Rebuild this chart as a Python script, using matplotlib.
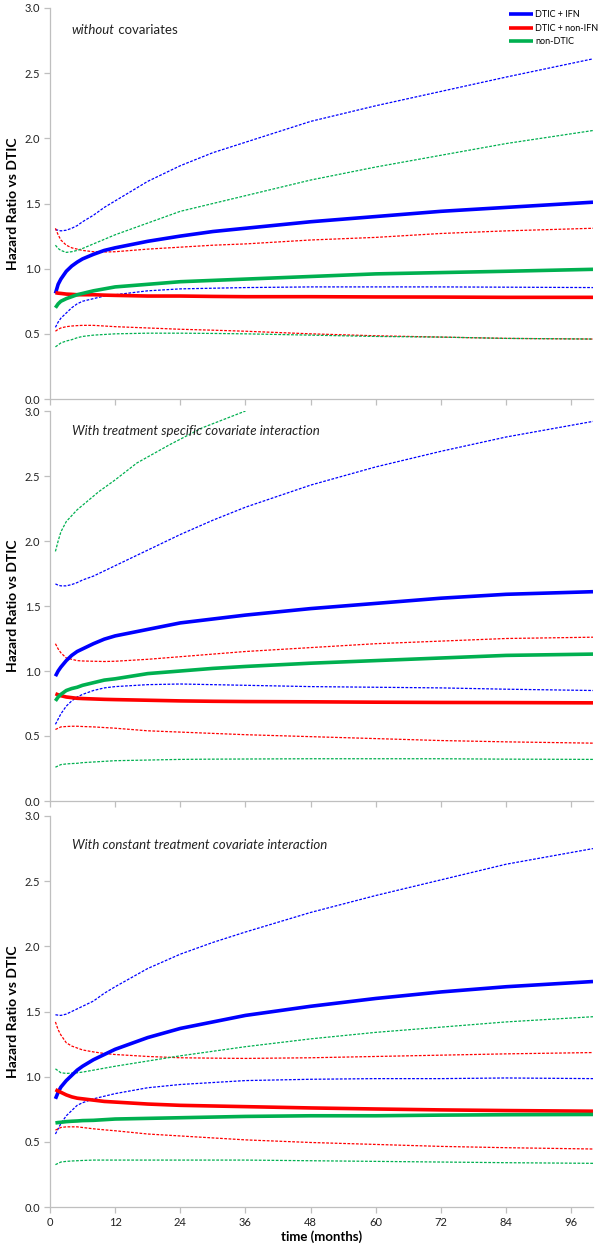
import matplotlib
matplotlib.use('Agg')
import matplotlib.pyplot as plt
import numpy as np

plt.rcParams.update({
    'font.family': ['Lato', 'DejaVu Sans'],
    'font.size': 8,
    'axes.spines.top': False,
    'axes.spines.right': False,
    'axes.edgecolor': '#bfbfbf',
    'axes.linewidth': 0.9,
    'xtick.color': '#bfbfbf',
    'ytick.color': '#bfbfbf',
    'xtick.labelcolor': '#222222',
    'ytick.labelcolor': '#222222',
    'xtick.labelsize': 8,
    'ytick.labelsize': 8,
})

# Data (months, hazard ratio vs DTIC)
months = [1, 1.5, 2, 3, 4, 5, 6, 8, 10, 12, 18, 24, 30, 36, 48, 60, 72, 84, 100]

# Panel 1: without covariates
p1_ifn = [0.81, 0.88, 0.92, 0.98, 1.02, 1.05, 1.075, 1.11, 1.14, 1.16, 1.21, 1.25, 1.285, 1.31, 1.36, 1.40, 1.44, 1.47, 1.51]
p1_ifn_hi = [1.30, 1.295, 1.29, 1.295, 1.31, 1.33, 1.36, 1.41, 1.47, 1.52, 1.67, 1.79, 1.89, 1.97, 2.13, 2.25, 2.36, 2.47, 2.61]
p1_ifn_lo = [0.55, 0.59, 0.62, 0.66, 0.70, 0.73, 0.75, 0.77, 0.79, 0.80, 0.83, 0.845, 0.85, 0.855, 0.86, 0.86, 0.86, 0.858, 0.855]
p1_nonifn = [0.815, 0.812, 0.81, 0.805, 0.803, 0.80, 0.80, 0.80, 0.797, 0.795, 0.79, 0.79, 0.787, 0.785, 0.785, 0.783, 0.782, 0.78, 0.78]
p1_nonifn_hi = [1.31, 1.26, 1.22, 1.18, 1.16, 1.15, 1.14, 1.13, 1.128, 1.13, 1.15, 1.165, 1.18, 1.19, 1.22, 1.24, 1.27, 1.29, 1.31]
p1_nonifn_lo = [0.52, 0.535, 0.545, 0.555, 0.56, 0.563, 0.565, 0.565, 0.56, 0.555, 0.545, 0.535, 0.528, 0.52, 0.50, 0.485, 0.475, 0.465, 0.46]
p1_nondtic = [0.70, 0.73, 0.75, 0.77, 0.785, 0.80, 0.81, 0.83, 0.845, 0.86, 0.88, 0.90, 0.91, 0.92, 0.94, 0.96, 0.97, 0.98, 0.995]
p1_nondtic_hi = [1.18, 1.155, 1.14, 1.125, 1.13, 1.14, 1.155, 1.19, 1.225, 1.26, 1.35, 1.44, 1.50, 1.56, 1.68, 1.78, 1.87, 1.96, 2.06]
p1_nondtic_lo = [0.40, 0.415, 0.43, 0.445, 0.455, 0.47, 0.48, 0.49, 0.495, 0.50, 0.505, 0.505, 0.503, 0.50, 0.49, 0.48, 0.475, 0.465, 0.46]

# Panel 2: treatment specific covariate interaction
p2_ifn = [0.96, 1.00, 1.03, 1.08, 1.12, 1.15, 1.17, 1.21, 1.245, 1.27, 1.32, 1.37, 1.40, 1.43, 1.48, 1.52, 1.56, 1.59, 1.61]
p2_ifn_hi = [1.67, 1.66, 1.655, 1.655, 1.665, 1.68, 1.70, 1.73, 1.77, 1.81, 1.93, 2.05, 2.16, 2.26, 2.43, 2.57, 2.69, 2.80, 2.92]
p2_ifn_lo = [0.59, 0.63, 0.67, 0.73, 0.77, 0.80, 0.82, 0.85, 0.87, 0.88, 0.895, 0.90, 0.895, 0.89, 0.88, 0.875, 0.87, 0.86, 0.85]
p2_nonifn = [0.825, 0.817, 0.81, 0.80, 0.795, 0.79, 0.788, 0.785, 0.782, 0.78, 0.775, 0.77, 0.767, 0.765, 0.763, 0.76, 0.758, 0.757, 0.755]
p2_nonifn_hi = [1.21, 1.17, 1.14, 1.10, 1.09, 1.08, 1.077, 1.075, 1.073, 1.075, 1.09, 1.11, 1.13, 1.15, 1.18, 1.21, 1.23, 1.25, 1.26]
p2_nonifn_lo = [0.55, 0.56, 0.57, 0.573, 0.575, 0.575, 0.573, 0.57, 0.565, 0.56, 0.54, 0.53, 0.52, 0.51, 0.495, 0.48, 0.465, 0.455, 0.445]
p2_nondtic = [0.77, 0.80, 0.82, 0.85, 0.865, 0.875, 0.89, 0.91, 0.93, 0.94, 0.98, 1.0, 1.02, 1.035, 1.06, 1.08, 1.10, 1.12, 1.13]
p2_nondtic_hi_months = [1, 1.5, 2, 3, 5, 9, 12, 16, 22, 28, 36]
p2_nondtic_hi = [1.92, 2.0, 2.07, 2.15, 2.24, 2.38, 2.47, 2.60, 2.74, 2.87, 3.0]
p2_nondtic_lo = [0.26, 0.27, 0.28, 0.285, 0.288, 0.29, 0.295, 0.30, 0.305, 0.31, 0.315, 0.32, 0.322, 0.323, 0.325, 0.325, 0.325, 0.322, 0.32]

# Panel 3: constant treatment covariate interaction
p3_ifn = [0.83, 0.88, 0.92, 0.97, 1.01, 1.05, 1.08, 1.13, 1.17, 1.21, 1.30, 1.37, 1.42, 1.47, 1.54, 1.60, 1.65, 1.69, 1.73]
p3_ifn_hi = [1.475, 1.472, 1.47, 1.48, 1.50, 1.52, 1.54, 1.58, 1.64, 1.69, 1.83, 1.94, 2.03, 2.11, 2.26, 2.39, 2.51, 2.63, 2.75]
p3_ifn_lo = [0.56, 0.60, 0.64, 0.70, 0.74, 0.78, 0.80, 0.83, 0.85, 0.87, 0.915, 0.94, 0.955, 0.97, 0.98, 0.985, 0.985, 0.99, 0.985]
p3_nonifn = [0.90, 0.89, 0.88, 0.86, 0.845, 0.835, 0.83, 0.82, 0.81, 0.805, 0.79, 0.78, 0.775, 0.77, 0.76, 0.752, 0.745, 0.74, 0.735]
p3_nonifn_hi = [1.42, 1.36, 1.32, 1.26, 1.235, 1.22, 1.205, 1.19, 1.178, 1.17, 1.155, 1.145, 1.142, 1.14, 1.145, 1.155, 1.165, 1.175, 1.185]
p3_nonifn_lo = [0.59, 0.60, 0.61, 0.615, 0.615, 0.615, 0.61, 0.60, 0.592, 0.585, 0.56, 0.545, 0.53, 0.515, 0.495, 0.48, 0.465, 0.455, 0.445]
p3_nondtic = [0.645, 0.648, 0.65, 0.655, 0.658, 0.66, 0.663, 0.665, 0.67, 0.675, 0.68, 0.685, 0.69, 0.695, 0.70, 0.70, 0.705, 0.708, 0.71]
p3_nondtic_hi = [1.06, 1.045, 1.03, 1.025, 1.027, 1.03, 1.035, 1.05, 1.065, 1.08, 1.12, 1.16, 1.195, 1.23, 1.29, 1.34, 1.38, 1.42, 1.46]
p3_nondtic_lo = [0.325, 0.335, 0.345, 0.35, 0.353, 0.355, 0.357, 0.36, 0.36, 0.36, 0.36, 0.36, 0.36, 0.36, 0.355, 0.35, 0.345, 0.34, 0.335]

blue = '#0000ff'
red = '#ff0000'
green = '#00b050'

panels = [
    dict(title=[('without', 'italic'), (' covariates', 'normal')], ty=2.83,
         ifn=(p1_ifn, p1_ifn_hi, p1_ifn_lo),
         nonifn=(p1_nonifn, p1_nonifn_hi, p1_nonifn_lo),
         nondtic=(p1_nondtic, (months, p1_nondtic_hi), p1_nondtic_lo)),
    dict(title=[('With treatment specific covariate interaction', 'italic')], ty=2.85,
         ifn=(p2_ifn, p2_ifn_hi, p2_ifn_lo),
         nonifn=(p2_nonifn, p2_nonifn_hi, p2_nonifn_lo),
         nondtic=(p2_nondtic, (p2_nondtic_hi_months, p2_nondtic_hi), p2_nondtic_lo)),
    dict(title=[('With constant treatment covariate interaction', 'italic')], ty=2.78,
         ifn=(p3_ifn, p3_ifn_hi, p3_ifn_lo),
         nonifn=(p3_nonifn, p3_nonifn_hi, p3_nonifn_lo),
         nondtic=(p3_nondtic, (months, p3_nondtic_hi), p3_nondtic_lo)),
]

fig = plt.figure(figsize=(6, 12.48), dpi=100)
H = 1248.0
tops = [8, 411, 816]
bots = [399, 801, 1207]
left, right = 50 / 600, 593 / 600

dash = dict(linestyle=(0, (2.2, 1.2)), linewidth=0.9)

for i, p in enumerate(panels):
    ax = fig.add_axes([left, 1 - bots[i] / H, right - left, (bots[i] - tops[i]) / H])

    # confidence limits
    ax.plot(months, p['ifn'][1], color=blue, **dash)
    ax.plot(months, p['ifn'][2], color=blue, **dash)
    ax.plot(months, p['nonifn'][1], color=red, **dash)
    ax.plot(months, p['nonifn'][2], color=red, **dash)
    ax.plot(p['nondtic'][1][0], p['nondtic'][1][1], color=green, **dash)
    ax.plot(months, p['nondtic'][2], color=green, **dash)

    # point estimates
    ax.plot(months, p['ifn'][0], color=blue, lw=2.6, label='DTIC + IFN', solid_capstyle='butt')
    ax.plot(months, p['nonifn'][0], color=red, lw=2.6, label='DTIC + non-IFN', solid_capstyle='butt')
    ax.plot(months, p['nondtic'][0], color=green, lw=2.6, label='non-DTIC', solid_capstyle='butt')

    ax.set_xlim(0, 100)
    ax.set_ylim(0, 3.0)
    ax.set_xticks(np.arange(0, 97, 12))
    ax.set_yticks(np.arange(0, 3.01, 0.5))
    ax.yaxis.set_major_formatter(matplotlib.ticker.FormatStrFormatter('%.1f'))
    ax.tick_params(length=4, width=0.9, pad=3)
    if i < 2:
        ax.set_xticklabels([])
    else:
        ax.set_xlabel('time (months)', fontsize=9.5, fontweight='bold', labelpad=2)
    ax.set_ylabel('Hazard Ratio vs DTIC', fontsize=10, fontweight='bold')
    ax.yaxis.set_label_coords(-0.057, 0.5)

    # panel title (mixed italic/normal)
    x0 = 4.0
    txt = None
    for s, style in p['title']:
        if txt is None:
            txt = ax.text(x0, p['ty'], s, fontsize=9.5, style=style, va='center', color='#222222')
        else:
            txt = ax.annotate(s, xycoords=txt, xy=(1, 0), va='bottom', fontsize=9.5,
                              style=style, color='#222222')

    if i == 0:
        ax.legend(loc='upper right', bbox_to_anchor=(1.025, 1.015), frameon=False, fontsize=6.5,
                  handlelength=2.6, handletextpad=0.25, labelspacing=0.5)

fig.savefig('out.png', dpi=100)
